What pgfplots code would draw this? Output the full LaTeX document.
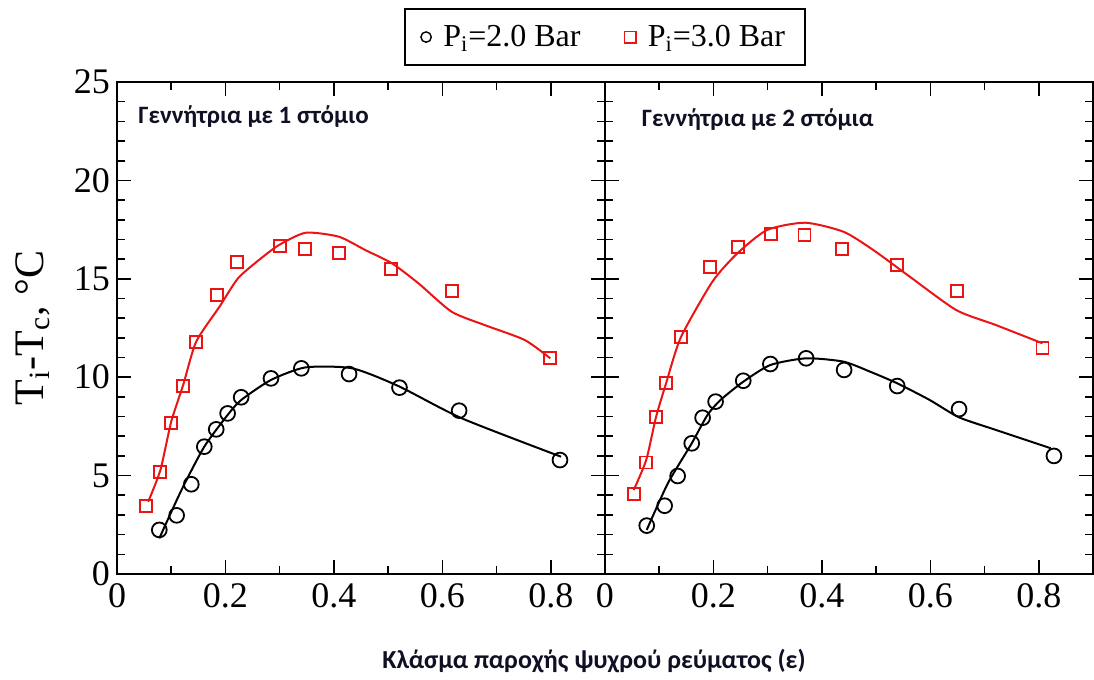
\documentclass[border=0pt]{standalone}
\usepackage{fontspec}
\setmainfont{Liberation Serif}
\newfontfamily\annot{Carlito}
\usepackage{pgfplots}
\pgfplotsset{compat=1.18}

\definecolor{pred}{RGB}{235,20,20}
\definecolor{navy}{RGB}{16,16,36}

\pgfplotsset{
  panel/.style={
    scale only axis, width=244pt, height=246pt,
    xmin=0, xmax=0.9, ymin=0, ymax=25,
    xtick={0,0.2,0.4,0.6,0.8}, minor x tick num=1,
    ytick={0,5,10,15,20,25}, minor y tick num=4,
    tick align=inside, major tick length=7pt, minor tick length=4pt,
    axis line style={line width=0.8pt},
    every tick/.style={black, line width=0.8pt},
    tick label style={font=\fontsize{18}{18}\selectfont},
    /pgf/number format/assume math mode=true,
    xticklabel style={yshift=-1pt},
    clip=false,
  },
  fit/.style={line width=1pt, smooth, tension=0.4, no markers},
  circ/.style={only marks, mark=o, mark size=3.7pt, line width=0.9pt, black},
  sq/.style={only marks, mark=square, mark size=3pt, line width=0.9pt, pred},
}

\begin{document}
\begin{tikzpicture}
\path (0,0) rectangle (547pt,337.5pt);

\begin{axis}[panel, name=L, at={(58.5pt,50.5pt)}, anchor=south west,
  ylabel={T\textsubscript{i}-T\textsubscript{c}, °C},
  every axis y label/.style={at={(rel axis cs:0,0.5)}, xshift=-42pt, rotate=90, anchor=center,
    font=\fontsize{21}{21}\selectfont},
  legend style={at={(1,1)}, anchor=south, yshift=8pt, draw=black, line width=0.8pt,
    font=\fontsize{16}{16}\selectfont, legend columns=2,
    /tikz/every odd column/.append style={column sep=4pt},
    /tikz/every even column/.append style={column sep=20pt},
    inner xsep=8pt, inner ysep=6pt},
]
  % fitted curves
  \addplot[fit, black, forget plot] coordinates {
    (0.078,1.81) (0.119,4.27) (0.161,6.47) (0.204,8.08) (0.229,8.84) (0.284,9.86)
    (0.348,10.50) (0.434,10.45) (0.519,9.55) (0.636,7.91) (0.819,5.96)};
  \addplot[fit, pred, forget plot] coordinates {
    (0.0575,3.67) (0.080,5.28) (0.100,7.74) (0.122,9.60) (0.146,11.80) (0.189,13.58)
    (0.223,15.02) (0.262,15.96) (0.299,16.72) (0.348,17.34) (0.409,17.14) (0.458,16.46)
    (0.507,15.79) (0.556,14.77) (0.617,13.33) (0.678,12.65) (0.752,11.89) (0.799,10.96)};
  % measured points
  \addplot[circ, legend image post style={mark size=2.6pt, line width=0.7pt}] coordinates {
    (0.078,2.24) (0.110,2.98) (0.137,4.56) (0.161,6.47) (0.183,7.35) (0.204,8.16)
    (0.229,8.98) (0.284,9.94) (0.340,10.45) (0.428,10.16) (0.521,9.47) (0.631,8.30)
    (0.817,5.79)};
  \addlegendentry{P\textsubscript{i}=2.0 Bar}
  \addplot[sq, legend image post style={mark size=2.8pt}] coordinates {
    (0.054,3.47) (0.080,5.18) (0.099,7.66) (0.122,9.55) (0.146,11.80) (0.185,14.18)
    (0.221,15.84) (0.301,16.68) (0.346,16.50) (0.409,16.33) (0.506,15.50) (0.618,14.40)
    (0.799,10.96)};
  \addlegendentry{P\textsubscript{i}=3.0 Bar}
  \node[anchor=west, font=\annot\bfseries\fontsize{12.5}{12.5}\selectfont, text=navy, inner sep=0pt]
    at (rel axis cs:0.043,0.929) {Γεννήτρια με 1 στόμιο};
\end{axis}

\begin{axis}[panel, at={(L.south east)}, anchor=south west, yticklabels={}]
  \addplot[fit, black] coordinates {
    (0.077,2.24) (0.116,4.61) (0.160,6.64) (0.189,8.08) (0.213,8.84) (0.255,9.77)
    (0.305,10.62) (0.371,10.96) (0.440,10.79) (0.489,10.28) (0.539,9.69) (0.599,8.84)
    (0.653,7.96) (0.721,7.32) (0.822,6.39)};
  \addplot[fit, pred] coordinates {
    (0.053,4.27) (0.076,5.79) (0.094,7.96) (0.113,9.72) (0.140,12.03) (0.198,14.85)
    (0.244,16.29) (0.299,17.48) (0.369,17.85) (0.440,17.39) (0.495,16.46) (0.562,15.11)
    (0.648,13.41) (0.721,12.65) (0.807,11.72)};
  \addplot[circ] coordinates {
    (0.077,2.46) (0.110,3.47) (0.134,4.98) (0.160,6.64) (0.180,7.94) (0.204,8.76)
    (0.255,9.82) (0.305,10.67) (0.371,10.96) (0.441,10.37) (0.539,9.55) (0.653,8.38)
    (0.828,6.00)};
  \addplot[sq] coordinates {
    (0.053,4.07) (0.076,5.67) (0.094,7.96) (0.113,9.69) (0.140,12.03) (0.193,15.58)
    (0.246,16.60) (0.306,17.28) (0.368,17.21) (0.437,16.50) (0.539,15.70) (0.649,14.40)
    (0.807,11.50)};
  \node[anchor=west, font=\annot\bfseries\fontsize{12.5}{12.5}\selectfont, text=navy, inner sep=0pt]
    at (rel axis cs:0.075,0.923) {Γεννήτρια με 2 στόμια};
\end{axis}

\node[font=\annot\bfseries\fontsize{13}{13}\selectfont, text=navy] at (297pt,7pt)
  {Κλάσμα παροχής ψυχρού ρεύματος (ε)};
\end{tikzpicture}
\end{document}
